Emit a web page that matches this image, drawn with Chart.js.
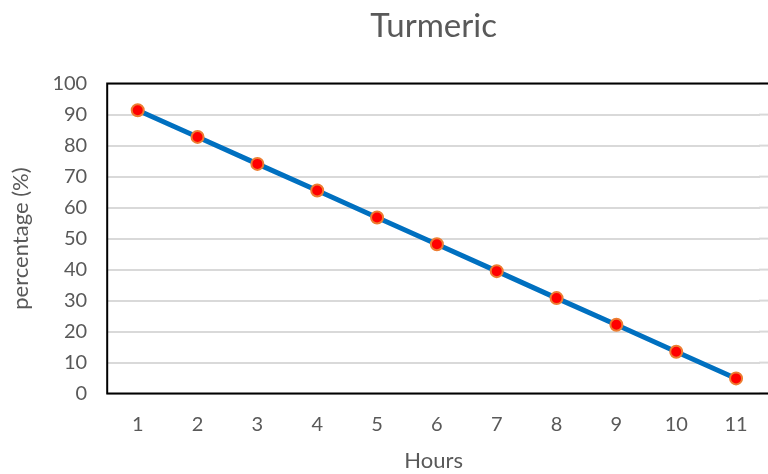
<!DOCTYPE html>
<html>
<head>
<meta charset="utf-8">
<script src="https://cdn.jsdelivr.net/npm/chart.js@4"></script>
<style>
  html, body { margin: 0; padding: 0; background: #fff; }
  #wrap { width: 768px; height: 474px; }
</style>
</head>
<body>
<div id="wrap"><canvas id="chart" width="768" height="474"></canvas></div>
<script>
const hours = [1, 2, 3, 4, 5, 6, 7, 8, 9, 10, 11];
const percentage = [91.4, 82.8, 74.1, 65.5, 56.8, 48.2, 39.5, 30.8, 22.2, 13.5, 4.9];
const yTicks = [0, 10, 20, 30, 40, 50, 60, 70, 80, 90, 100];

const fontFamily = 'Lato, "Open Sans", sans-serif';
const grey = '#595959';
const gridColor = '#D9D9D9';

// plot frame: top, left and bottom edges; the plot runs off the right side of the canvas,
// so gridlines are carried on to the canvas edge as well
const framePlugin = {
    id: 'frame',
    beforeDatasetsDraw(chart) {
        const a = chart.chartArea;
        if (a.right >= chart.width) return;
        const ctx = chart.ctx;
        const y = chart.scales.y;
        ctx.save();
        ctx.strokeStyle = gridColor;
        ctx.lineWidth = 2;
        yTicks.forEach(v => {
            const py = y.getPixelForValue(v);
            ctx.beginPath();
            ctx.moveTo(a.right - 1, py);
            ctx.lineTo(chart.width, py);
            ctx.stroke();
        });
        ctx.restore();
    },
    afterDraw(chart) {
        const a = chart.chartArea;
        const ctx = chart.ctx;
        ctx.save();
        ctx.strokeStyle = '#000';
        ctx.lineWidth = 2;
        ctx.beginPath();
        ctx.moveTo(chart.width + 5, a.top);
        ctx.lineTo(a.left, a.top);
        ctx.lineTo(a.left, a.bottom);
        ctx.lineTo(chart.width + 5, a.bottom);
        ctx.stroke();
        ctx.restore();
    }
};

new Chart(document.getElementById('chart').getContext('2d'), {
    type: 'line',
    data: {
        datasets: [{
            label: 'Turmeric',
            data: hours.map((h, i) => ({ x: h, y: percentage[i] })),
            borderColor: '#0070C0',
            borderWidth: 5,
            pointRadius: 6,
            pointBackgroundColor: '#FF0000',
            pointBorderColor: '#ED7D31',
            pointBorderWidth: 2,
            tension: 0
        }]
    },
    options: {
        responsive: false,
        animation: false,
        layout: { padding: { top: 7, right: 0, bottom: 0, left: 8 } },
        plugins: {
            legend: { display: false },
            tooltip: { enabled: false },
            title: {
                display: true,
                fullSize: false,
                text: 'Turmeric',
                color: grey,
                font: { family: fontFamily, size: 33, weight: 'normal' },
                padding: { top: 0, bottom: 37 }
            }
        },
        scales: {
            x: {
                type: 'linear',
                min: 0.49,
                max: 11.4,
                afterBuildTicks: (scale) => { scale.ticks = hours.map(v => ({ value: v })); },
                grid: { display: false, drawTicks: false },
                border: { display: false },
                ticks: {
                    color: grey,
                    padding: 19,
                    font: { family: fontFamily, size: 20 }
                },
                title: {
                    display: true,
                    text: 'Hours',
                    color: grey,
                    font: { family: fontFamily, size: 22 },
                    padding: { top: -8, bottom: 0 }
                }
            },
            y: {
                min: 0,
                max: 100,
                afterBuildTicks: (scale) => { scale.ticks = yTicks.map(v => ({ value: v })); },
                grid: { color: gridColor, lineWidth: 2, drawTicks: false },
                border: { display: false },
                ticks: {
                    color: grey,
                    padding: 20,
                    font: { family: fontFamily, size: 20 }
                },
                title: {
                    display: true,
                    text: 'percentage (%)',
                    color: grey,
                    font: { family: fontFamily, size: 22 },
                    padding: { top: 0, bottom: -2 }
                }
            }
        }
    },
    plugins: [framePlugin]
});
</script>
</body>
</html>
